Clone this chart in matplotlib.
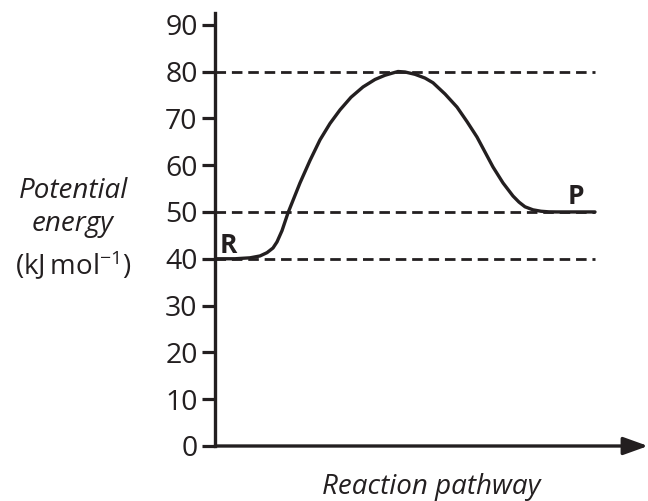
import matplotlib
matplotlib.use("Agg")
import matplotlib.pyplot as plt

# ---- data ----
y_ticks = [0, 10, 20, 30, 40, 50, 60, 70, 80, 90]
y_tick_labels = [str(v) for v in y_ticks]
reference_levels = [40, 50, 80]

# reaction pathway (arbitrary units) vs potential energy (kJ/mol)
path_x = [0, 20, 35, 45, 52, 58, 62, 67, 73, 79, 85, 95, 105, 115, 125, 136, 148, 160,
          170, 178, 183, 190, 200, 210, 218, 230, 242, 252, 262, 270, 278, 288, 298,
          304, 310, 318, 326, 334, 342, 360, 380]
path_y = [40, 40, 40.2, 40.6, 41.3, 42.3, 43.6, 46.0, 49.8, 53.0, 56.2, 61.0, 65.4,
          68.9, 71.8, 74.5, 76.7, 78.3, 79.2, 79.7, 80, 79.9, 79.4, 78.6, 77.6, 75.2,
          72.4, 69.3, 66.0, 62.8, 59.6, 56.2, 53.4, 52.1, 51.1, 50.45, 50.15, 50.02,
          50, 50, 50]
level_end = 380
x_end = 433

ink = "#231f20"
font = "Open Sans"
plt.rcParams['font.family'] = [font, 'DejaVu Sans']
plt.rcParams['mathtext.fontset'] = 'custom'
plt.rcParams['mathtext.rm'] = font

W, H = 648, 501
fig = plt.figure(figsize=(W / 100, H / 100), dpi=100)
ax = fig.add_axes([215 / W, 55 / H, 433 / W, 433 / H])
ax.set_xlim(0, x_end)
ax.set_ylim(0, 92.5)

for lv in reference_levels:
    ax.plot([0, level_end], [lv, lv], color=ink, lw=2.0, dashes=(3.8, 2.1),
            solid_capstyle='butt', dash_capstyle='butt', zorder=2)

ax.plot(path_x, path_y, color=ink, lw=2.4, solid_capstyle='round',
        solid_joinstyle='round', zorder=3)

for s in ['top', 'right', 'bottom']:
    ax.spines[s].set_visible(False)
ax.spines['left'].set_linewidth(2.4)
ax.spines['left'].set_color(ink)

ax.annotate('', xy=(x_end, 0), xytext=(0, 0), xycoords='data',
            arrowprops=dict(arrowstyle='-|>,head_length=0.75,head_width=0.27',
                            mutation_scale=20, lw=2.4, color=ink,
                            shrinkA=0, shrinkB=0),
            annotation_clip=False, zorder=4)

ax.set_xticks([])
ax.set_yticks(y_ticks)
ax.set_yticklabels(y_tick_labels, fontsize=20.5, color=ink)
ax.tick_params(axis='y', direction='out', length=9.5, width=2.3, color=ink, pad=3)

ax.text(13, 42.8, 'R', fontsize=19, fontweight='bold', color=ink, ha='center', va='center')
ax.text(361, 53.4, 'P', fontsize=19, fontweight='bold', color=ink, ha='center', va='center')

fig.text(73 / W, 1 - 191 / H, 'Potential', fontsize=20, style='italic', color=ink,
         ha='center', va='center')
fig.text(73 / W, 1 - 224 / H, 'energy', fontsize=20, style='italic', color=ink,
         ha='center', va='center')
fig.text(73 / W, 1 - 266 / H, r'$\mathregular{(kJ\,mol^{-1})}$', fontsize=20, color=ink,
         ha='center', va='center')
fig.text(431 / W, 1 - 487 / H, 'Reaction pathway', fontsize=20, style='italic', color=ink,
         ha='center', va='center')

fig.savefig('out.png', dpi=100)
